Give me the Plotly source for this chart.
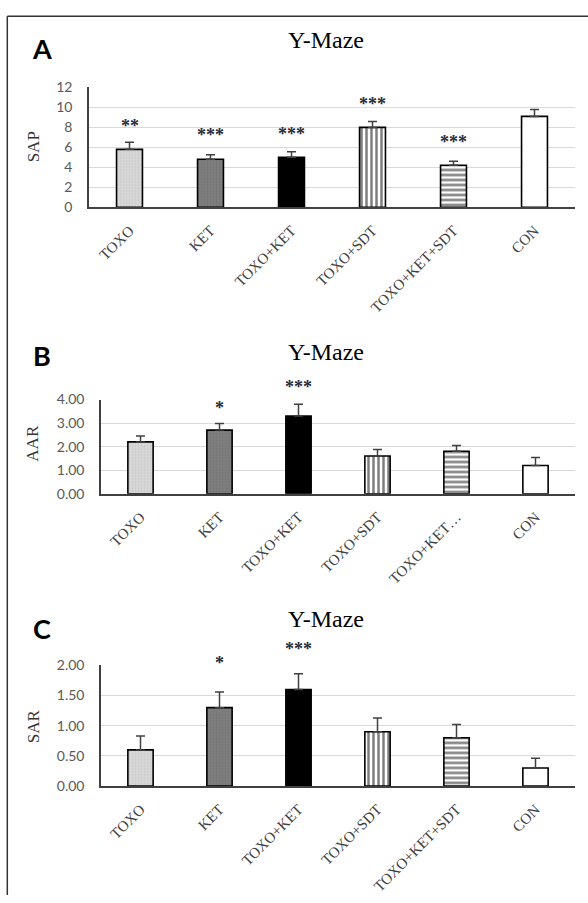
import plotly.graph_objects as go

W, H = 588, 903

groups = ["TOXO", "KET", "TOXO+KET", "TOXO+SDT", "TOXO+KET+SDT", "CON"]
labels_a = ["TOXO", "KET", "TOXO+KET", "TOXO+SDT", "TOXO+KET+SDT", "CON"]
labels_b = ["TOXO", "KET", "TOXO+KET", "TOXO+SDT", "TOXO+KET…", "CON"]
labels_c = ["TOXO", "KET", "TOXO+KET", "TOXO+SDT", "TOXO+KET+SDT", "CON"]

sap = [5.8, 4.8, 5.0, 8.0, 4.2, 9.1]
sap_err = [0.7, 0.45, 0.55, 0.6, 0.4, 0.7]
sap_sig = ["**", "***", "***", "***", "***", ""]
sap_sig_y = [7.9, 7.0, 7.1, 10.1, 6.3, 0]

aar = [2.2, 2.7, 3.3, 1.6, 1.8, 1.2]
aar_err = [0.25, 0.28, 0.5, 0.28, 0.25, 0.34]
aar_sig = ["", "*", "***", "", "", ""]
aar_sig_y = [0, 3.56, 4.43, 0, 0, 0]

sar = [0.6, 1.3, 1.6, 0.9, 0.8, 0.3]
sar_err = [0.23, 0.26, 0.26, 0.23, 0.22, 0.16]
sar_sig = ["", "*", "***", "", "", ""]
sar_sig_y = [0, 2.0, 2.24, 0, 0, 0]

fills = ["#d9d9d9", "#7f7f7f", "#000000", "#ffffff", "#ffffff", "#ffffff"]
pat_shapes = [".", ".", "", "|", "-", ""]
pat_fg = ["#b5b5b5", "#666666", "#000000", "#000000", "#000000", "#000000"]
pat_size = [3, 3, 8, 5, 5, 8]
pat_sol = [0.3, 0.3, 0.3, 0.5, 0.5, 0.3]

SERIF = "Liberation Serif, Times New Roman, serif"
SANS = "Lato, Liberation Sans, sans-serif"


def fx(px):
    return px / W


def fy(py):
    return 1 - py / H


panels = [
    dict(vals=sap, err=sap_err, sig=sap_sig, sig_y=sap_sig_y, labels=labels_a,
         ytitle="SAP", rng=[0, 12], dtick=2, fmt="d",
         left=89, top=80, bottom=202, title_y=32, letter="A",
         letter_xy=(41.7, 40), ytitle_y=141),
    dict(vals=aar, err=aar_err, sig=aar_sig, sig_y=aar_sig_y, labels=labels_b,
         ytitle="AAR", rng=[0, 4], dtick=1, fmt=".2f",
         left=101, top=398, bottom=494, title_y=350, letter="B",
         letter_xy=(41.7, 353.3), ytitle_y=443),
    dict(vals=sar, err=sar_err, sig=sar_sig, sig_y=sar_sig_y, labels=labels_c,
         ytitle="SAR", rng=[0, 2], dtick=0.5, fmt=".2f",
         left=101, top=669, bottom=792, title_y=622, letter="C",
         letter_xy=(41.7, 631.7), ytitle_y=731),
]

fig = go.Figure()
annotations = []
layout = {}
RIGHT = 575

for i, p in enumerate(panels, start=1):
    xa = "x" if i == 1 else f"x{i}"
    ya = "y" if i == 1 else f"y{i}"
    for j, g in enumerate(groups):
        fig.add_trace(go.Bar(
            x=[g], y=[p["vals"][j]], xaxis=xa, yaxis=ya,
            marker=dict(
                color=fills[j],
                line=dict(color="#000000", width=1.6),
                pattern=dict(shape=pat_shapes[j], fgcolor=pat_fg[j], bgcolor=fills[j],
                             size=pat_size[j], solidity=pat_sol[j]),
            ),
            error_y=dict(type="data", array=[p["err"][j]], arrayminus=[0],
                         symmetric=False, color="#404040", thickness=1.5, width=4.5),
            showlegend=False, name=g,
        ))
    # significance markers: placed on the y axis' domain scale (value / axis max)
    # so that markers above the axis top stay visible
    for g, s, sy in zip(groups, p["sig"], p["sig_y"]):
        if s:
            annotations.append(dict(
                x=g, xref=xa, y=(sy - p["rng"][0]) / (p["rng"][1] - p["rng"][0]),
                yref=f"{ya} domain", text="<b>" + s + "</b>", showarrow=False,
                font=dict(family=SERIF, size=18, color="#262a38"),
                xanchor="center", yanchor="middle", yshift=2,
            ))
    layout["xaxis" if i == 1 else f"xaxis{i}"] = dict(
        domain=[fx(p["left"]), fx(RIGHT)], anchor=ya,
        type="category", categoryorder="array", categoryarray=groups,
        tickmode="array", tickvals=groups, ticktext=p["labels"],
        tickangle=-45, tickfont=dict(family=SERIF, size=15, color="#404040"),
        showline=True, linecolor="#404040", linewidth=1.5,
        showgrid=False, ticks="", ticklabelstandoff=7, fixedrange=True,
    )
    layout["yaxis" if i == 1 else f"yaxis{i}"] = dict(
        domain=[fy(p["bottom"]), fy(p["top"])], anchor=xa,
        range=p["rng"], dtick=p["dtick"], tickformat=p["fmt"],
        tickfont=dict(family=SANS, size=14, color="#595959"),
        showline=True, linecolor="#404040", linewidth=1.5,
        showgrid=True, gridcolor="#d9d9d9", gridwidth=1,
        zeroline=False, ticks="", ticklabelstandoff=12, fixedrange=True,
    )
    annotations.append(dict(
        x=fx(326), y=fy(p["title_y"]), xref="paper", yref="paper",
        text="Y-Maze", showarrow=False,
        font=dict(family=SERIF, size=24, color="#000000"),
        xanchor="center", yanchor="middle",
    ))
    annotations.append(dict(
        x=fx(p["letter_xy"][0]), y=fy(p["letter_xy"][1]), xref="paper", yref="paper",
        text="<b>" + p["letter"] + "</b>", showarrow=False,
        font=dict(family=SANS, size=27, color="#000000"),
        xanchor="center", yanchor="middle",
    ))
    annotations.append(dict(
        x=fx(33), y=fy(p["ytitle_y"]), xref="paper", yref="paper",
        text=p["ytitle"], showarrow=False, textangle=-90,
        font=dict(family=SERIF, size=17, color="#333333"),
        xanchor="center", yanchor="middle",
    ))

shapes = [
    dict(type="line", xref="paper", yref="paper", x0=fx(7.3), x1=1, y0=fy(7.3), y1=fy(7.3),
         line=dict(color="#333333", width=1.5)),
    dict(type="line", xref="paper", yref="paper", x0=fx(7.3), x1=fx(7.3), y0=fy(7.3), y1=0,
         line=dict(color="#333333", width=1.5)),
]

fig.update_layout(
    width=W, height=H, margin=dict(l=0, r=0, t=0, b=0),
    paper_bgcolor="#ffffff", plot_bgcolor="#ffffff",
    barmode="overlay", bargap=0.68, annotations=annotations, shapes=shapes,
    **layout,
)

fig.write_html(
    "out.html",
    config={"displayModeBar": False},
    post_script="document.body.style.margin='0';document.body.style.overflow='hidden';",
)
